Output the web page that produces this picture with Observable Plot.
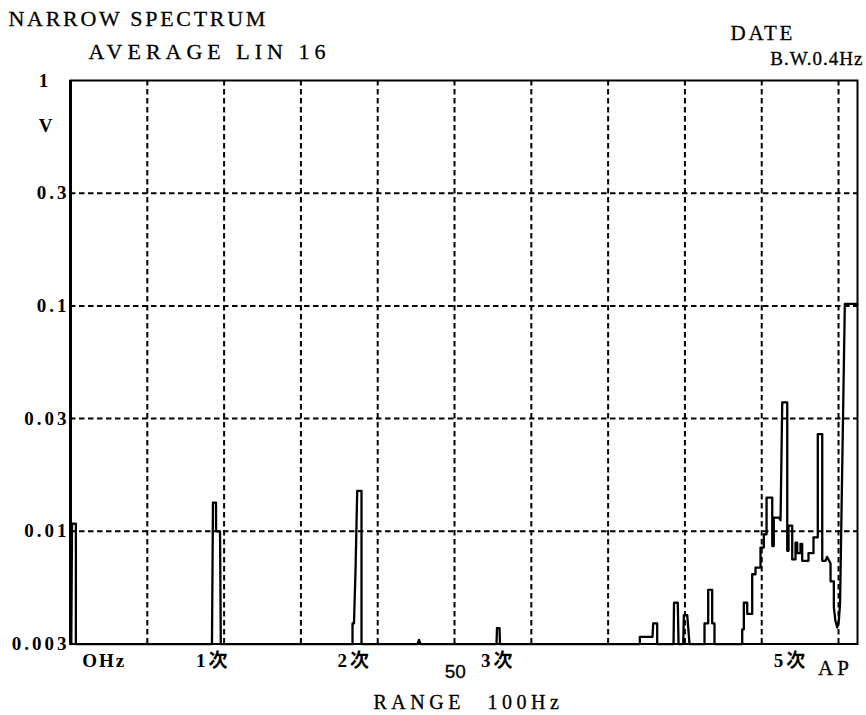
<!DOCTYPE html>
<html>
<head>
<meta charset="utf-8">
<script src="https://cdn.jsdelivr.net/npm/d3@7"></script>
<script src="https://cdn.jsdelivr.net/npm/@observablehq/plot@0.6"></script>
<style>
  html, body { margin: 0; padding: 0; background: #fff; }
  svg { display: block; }
</style>
</head>
<body>
<div id="chart"></div>
<script>
// ---- data ----
// vertical grid (Hz)
const gridHz = [10, 20, 30, 40, 50, 60, 70, 80, 90, 100];
// y ticks in dB (10 dB per division) and their printed labels
const yTickDb = [0, -10, -20, -30, -40, -50];
const yTickLabels = ["1", "0.3", "0.1", "0.03", "0.01", "0.003"];
// annotations under the x axis (Hz positions)
const harmLabels = ["OHz", "1次", "2次", "3次", "5次"];
const harmHz = [4.4, 18.6, 37.0, 55.7, 93.8];
const midLabel = ["50"];
const midHz = [50.1];
const apLabel = ["AP"];
const apHz = [99.6];

// spectrum trace (frequency in Hz, amplitude in V)
const F = 0.00316; // floor
const traceHz = [
  0, 0.1, 0.2, 0.7, 0.7,
  18.42, 18.55, 18.95, 18.95, 19.47, 19.57,
  36.72, 36.72, 36.91, 37.11, 37.33, 37.89, 37.89,
  45.18, 45.38, 45.57,
  55.47, 55.53, 55.86, 55.92,
  74.13, 74.13, 75.78, 75.87, 76.39, 76.39,
  78.52, 78.58, 79.07, 79.17,
  79.78, 79.86, 80.3, 80.6,
  82.55, 82.55, 83.03, 83.03, 83.55, 83.55, 83.85, 83.85,
  87.46, 87.46, 87.67, 87.67, 88.11, 88.11, 88.76, 88.76, 89.19, 89.19,
  89.84, 89.84, 90.27, 90.27, 90.63, 90.63, 91.37, 91.37, 91.57, 91.57,
  92.23, 92.45, 92.67, 93.32, 93.32, 93.49, 93.49, 93.97, 93.97, 94.4, 94.4,
  94.62, 94.62, 95.05, 95.05, 95.27, 95.27, 96.09, 96.09, 96.74, 96.74,
  97.3, 97.3, 97.88, 97.88, 98.31, 98.5, 98.96, 98.96, 99.39, 99.39, 99.6, 99.83,
  100.04, 100.2, 100.82, 102.47
];
const traceV = [
  F, F, 0.0108, 0.0108, F,
  F, 0.0134, 0.0134, 0.0100, 0.0100, F,
  F, 0.0039, 0.0039, 0.0067, 0.0151, 0.0151, F,
  F, 0.0033, F,
  F, 0.00372, 0.00372, F,
  F, 0.0034, 0.0034, 0.0039, 0.0039, F,
  F, 0.00482, 0.00482, F,
  F, 0.00425, 0.00425, F,
  F, 0.0039, 0.0039, 0.0055, 0.0055, 0.0039, 0.0039, F,
  F, 0.00367, 0.00367, 0.00482, 0.00482, 0.0043, 0.0043, 0.00645, 0.00645, 0.0069,
  0.0069, 0.00847, 0.00847, 0.0097, 0.0097, 0.0141, 0.0141, 0.0086, 0.0086, 0.0115,
  0.0115, 0.0112, 0.0373, 0.0373, 0.0082, 0.0082, 0.0106, 0.0106, 0.0075, 0.0075, 0.0089,
  0.0089, 0.0080, 0.0080, 0.0088, 0.0088, 0.0074, 0.0074, 0.0080, 0.0080, 0.0094,
  0.0094, 0.027, 0.027, 0.0074, 0.0074, 0.0077, 0.0072, 0.0060, 0.0060, 0.0046, 0.0040, 0.00374,
  0.0040, 0.0048, 0.102, 0.102
];

// ---- build ----
const trace = traceHz.map((x, i) => ({x, v: traceV[i]}));
const yTickV = yTickDb.map(db => Math.pow(10, db / 20));
const gridV = yTickV.slice(1, -1);
const serif = "'Liberation Serif', 'DejaVu Serif', 'Noto Sans CJK JP', serif";
const dash = "5.5,3.5";
const ink = {fill: "#000", stroke: "#000", strokeWidth: 0.3};

const chart = Plot.plot({
  width: 866,
  height: 715,
  marginTop: 80,
  marginBottom: 71.5,
  marginLeft: 70,
  marginRight: 9,
  x: {domain: [0, 102.47], axis: null},
  y: {type: "log", domain: [Math.pow(10, -2.5), 1], axis: null},
  style: {fontFamily: serif, background: "#fff", color: "#000", overflow: "visible"},
  marks: [
    Plot.ruleX(gridHz, {x: d => d, stroke: "#000", strokeWidth: 2, strokeDasharray: dash}),
    Plot.ruleY(gridV, {y: d => d, stroke: "#000", strokeWidth: 2, strokeDasharray: dash}),
    Plot.frame({stroke: "#000", strokeWidth: 2}),
    Plot.ruleX([0], {x: d => d, stroke: "#000", strokeWidth: 3}),
    Plot.line(trace, {x: "x", y: "v", stroke: "#000", strokeWidth: 2.3, strokeLinejoin: "round"}),
    // y tick labels
    Plot.text(yTickV.slice(1), {y: d => d, text: (d, i) => yTickLabels[i + 1], frameAnchor: "left",
      textAnchor: "end", dx: -1, fontSize: 19, fontWeight: "bold"}),
    Plot.text(yTickV.slice(0, 1), {y: d => d, text: (d, i) => yTickLabels[i], frameAnchor: "left",
      textAnchor: "middle", dx: -27, fontSize: 19, fontWeight: "bold"}),
    Plot.text(["V"], {frameAnchor: "top-left", textAnchor: "middle", lineAnchor: "middle",
      dx: -25, dy: 45, fontSize: 19, fontWeight: "bold"}),
    // x annotations
    Plot.text(harmLabels, {x: harmHz, text: d => d, frameAnchor: "bottom", lineAnchor: "middle",
      dy: 16.5, fontSize: 19, fontWeight: "bold"}),
    Plot.text(midLabel, {x: midHz, text: d => d, frameAnchor: "bottom", lineAnchor: "middle",
      dy: 28, fontSize: 19, fontFamily: "'Liberation Sans', sans-serif", ...ink}),
    Plot.text(apLabel, {x: apHz, text: d => d, frameAnchor: "bottom", lineAnchor: "middle",
      dy: 24, fontSize: 21, ...ink}),
    Plot.text(["RANGE"], {frameAnchor: "bottom-left", textAnchor: "start", lineAnchor: "middle",
      dx: 303, dy: 58.5, fontSize: 20, ...ink}),
    Plot.text(["100Hz"], {frameAnchor: "bottom-left", textAnchor: "start", lineAnchor: "middle",
      dx: 417, dy: 58.5, fontSize: 20, ...ink}),
    // header texts
    Plot.text(["NARROW SPECTRUM"], {frameAnchor: "top-left", textAnchor: "start", lineAnchor: "middle",
      dx: -62, dy: -62, fontSize: 22, ...ink}),
    Plot.text(["AVERAGE LIN 16"], {frameAnchor: "top-left", textAnchor: "start", lineAnchor: "middle",
      dx: 18, dy: -29, fontSize: 22, ...ink}),
    Plot.text(["DATE"], {frameAnchor: "top-left", textAnchor: "start", lineAnchor: "middle",
      dx: 660, dy: -47, fontSize: 21, ...ink}),
    Plot.text(["B.W.0.4Hz"], {frameAnchor: "top-right", textAnchor: "end", lineAnchor: "middle",
      dx: 6, dy: -22, fontSize: 19, ...ink})
  ]
});

// letter spacing to mimic the typewriter style of the plotter
const spacing = {
  "NARROW SPECTRUM": 2.7, "AVERAGE LIN 16": 5, "DATE": 2.75, "RANGE": 4.5, "100Hz": 4.5,
  "AP": 4, "OHz": 2, "1次": 3, "2次": 3, "3次": 3, "5次": 3, "B.W.0.4Hz": 1,
  "0.3": 3, "0.1": 3, "0.03": 3, "0.01": 3, "0.003": 3
};
d3.select(chart).selectAll("text").each(function() {
  const t = this.textContent;
  if (spacing[t] != null) d3.select(this).attr("letter-spacing", spacing[t]);
});
document.getElementById("chart").appendChild(chart);
</script>
</body>
</html>
